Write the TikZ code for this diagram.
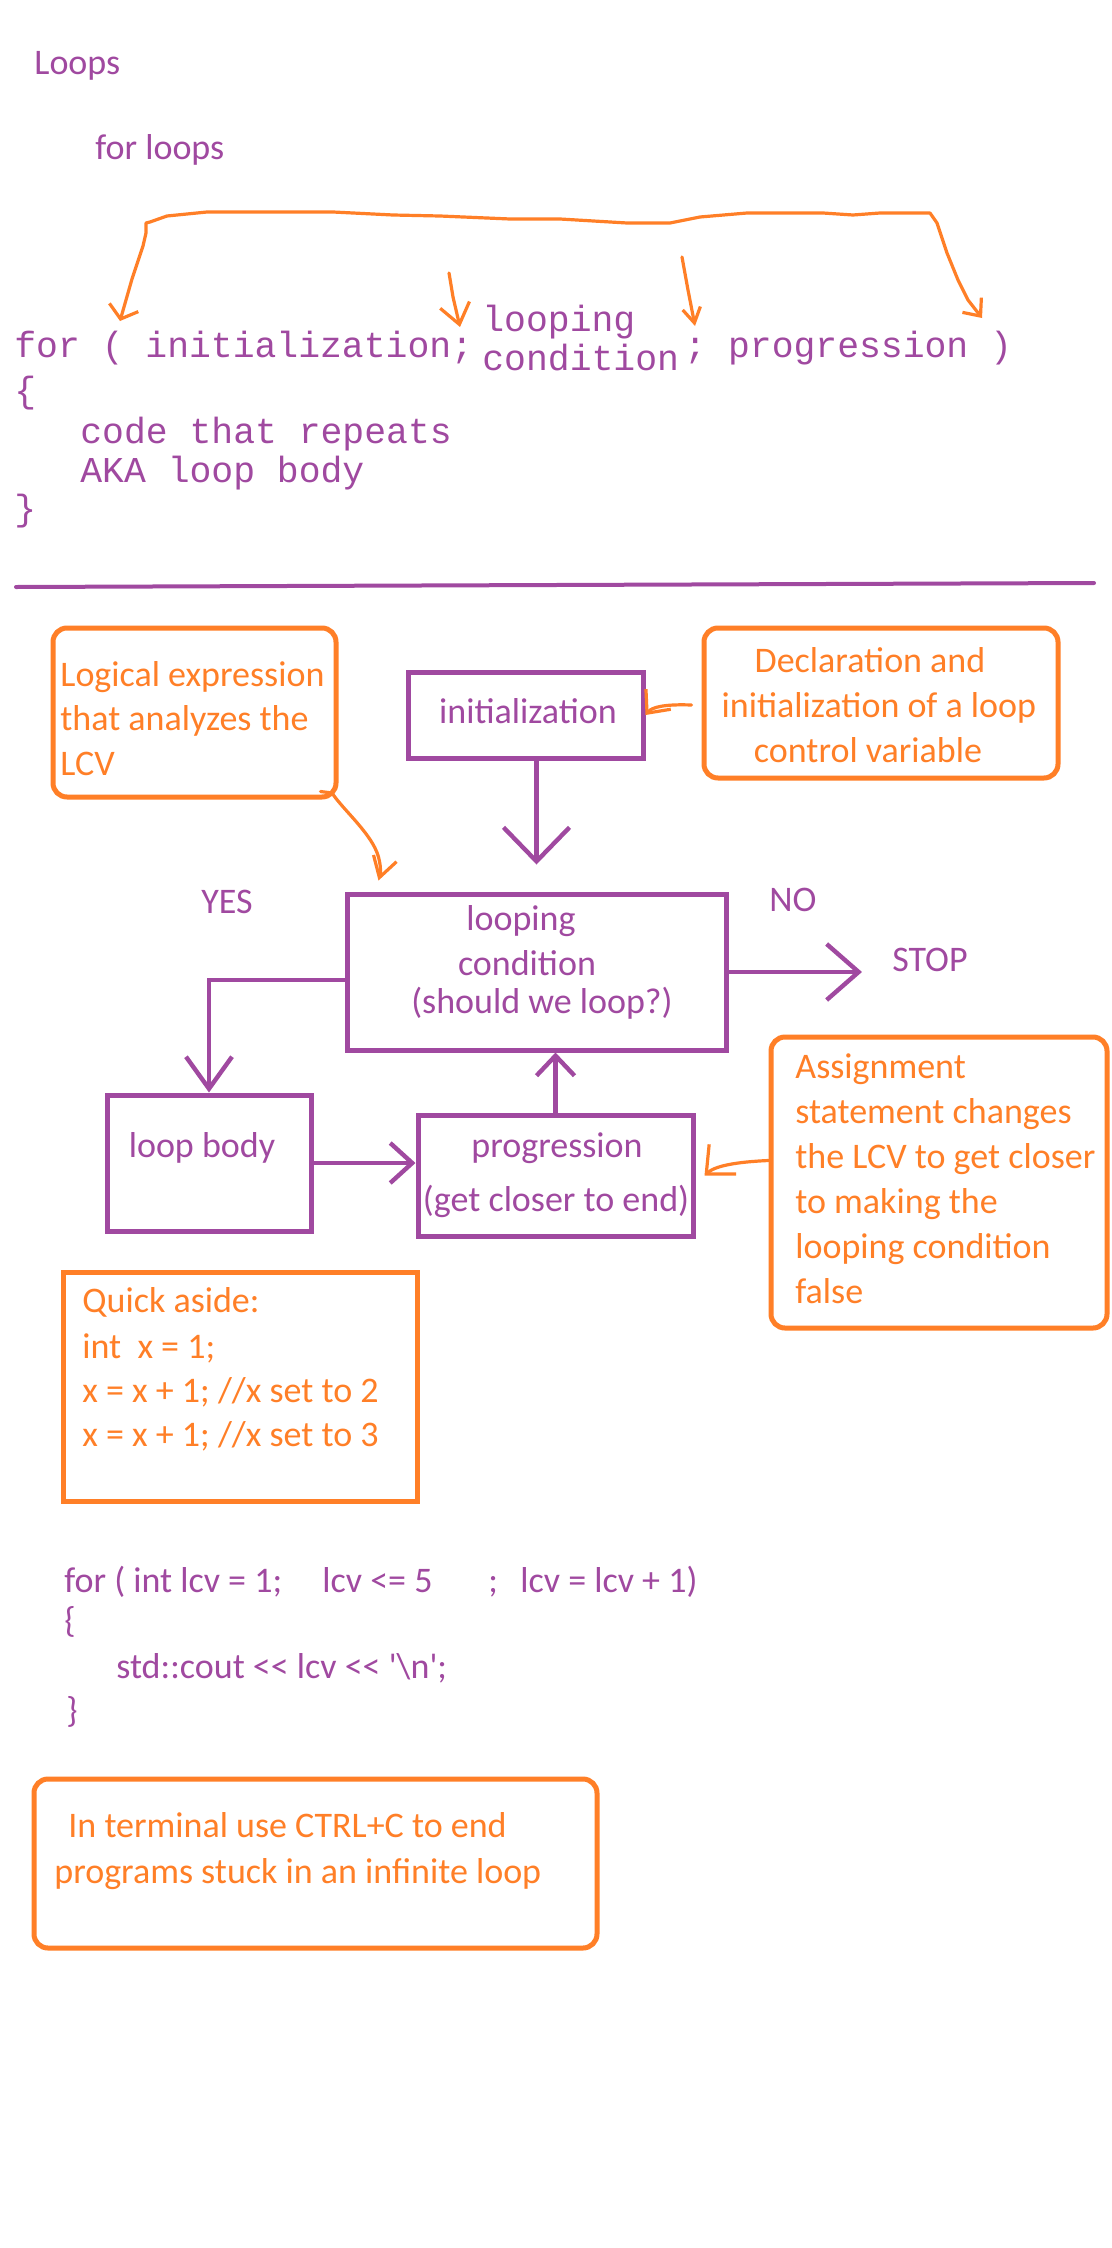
\documentclass[tikz,border=0pt]{standalone}
\usepackage{fontspec}
\newfontfamily\calib{Carlito}
\newfontfamily\monof{Liberation Mono}
\usetikzlibrary{arrows.meta,calc}
\definecolor{purp}{RGB}{160,73,160}
\definecolor{orng}{RGB}{255,127,39}
\begin{document}
\begin{tikzpicture}[x=0.5pt,y=-0.5pt,
  ctxt/.style={font=\calib\fontsize{18}{22}\selectfont, inner sep=0pt},
  ptxt/.style={ctxt,text=purp},
  otxt/.style={ctxt,text=orng},
  mtxt/.style={font=\monof\fontsize{18.2}{22}\selectfont, text=purp, inner sep=0pt},
  pbox/.style={draw=purp, line width=2.5pt, inner sep=0pt},
  obox/.style={draw=orng, line width=2.5pt, inner sep=0pt, rounded corners=7pt},
  sbox/.style={draw=orng, line width=2.5pt, inner sep=0pt},
  parrow/.style={draw=purp, line width=2.2pt},
  oline/.style={draw=orng, line width=1.6pt, line cap=round, line join=round},
]
\fill[white] (0,0) rectangle (1112,2248);

% ---------- top part ----------
\node[ptxt, anchor=base west] (title) at (34,75) {Loops};
\node[ptxt, anchor=base west] (sub) at (95,159) {for loops};

\node[mtxt, anchor=base west] (forinit) at (14,357) {for ( initialization;};
\node[mtxt, anchor=base west] (lcond1) at (482,331) {looping};
\node[mtxt, anchor=base west] (lcond2) at (482,370) {condition};
\node[mtxt, anchor=base west] (fprog) at (684,357) {; progression )};
\node[mtxt, anchor=base west] (obrace) at (14,402) {\{};
\node[mtxt, anchor=base west] (body1) at (80,443) {code that repeats};
\node[mtxt, anchor=base west] (body2) at (80,482) {AKA loop body};
\node[mtxt, anchor=base west] (cbrace) at (14,520) {\}};

% orange bracket
\draw[oline, {Straight Barb[length=6pt,width=15pt]}-{Straight Barb[length=7pt,width=12pt]}]
  (120,321) -- (132,279) -- (143,246) -- (146,233) -- (146,223) -- (150,222) -- (167,216)
  -- (207,212) -- (333,212) -- (373,214) -- (393,215) -- (440,216) -- (510,219) -- (560,219)
  -- (627,223) -- (670,223) -- (700,217) -- (747,213) -- (823,213) -- (853,215) -- (880,213)
  -- (930,213) -- (937,223) -- (947,253) -- (958,280) -- (968,300) -- (982,318);
\draw[oline, -{Straight Barb[length=10pt,width=15pt]}] (449,273) -- (453,297) -- (460,327);
\draw[oline, -{Straight Barb[length=7.5pt,width=9pt]}] (682,257) -- (688,290) -- (695,326);

% separator
\draw[draw=purp, line width=2pt, line cap=round]
  (16,587) -- (151,586.5) -- (420,585.5) -- (690,584.5) -- (959,583.5) -- (1094,583);

% ---------- flow chart ----------
\node[obox, minimum width=141.5pt, minimum height=84.5pt] (leftbox) at (194.5,712.5) {};
\node[otxt, anchor=base west] (lb1) at (60,686) {Logical expression};
\node[otxt, anchor=base west] (lb2) at (60,730) {that analyzes the};
\node[otxt, anchor=base west] (lb3) at (60,775) {LCV};

\node[obox, minimum width=177pt, minimum height=75pt] (rightbox) at (881,703) {};
\node[otxt, anchor=base] (rb1) at (870,672) {Declaration and};
\node[otxt, anchor=base] (rb2) at (879,717) {initialization of a loop};
\node[otxt, anchor=base] (rb3) at (868,762) {control variable};

\node[pbox, minimum width=117.25pt, minimum height=43pt] (init) at (525.75,715) {};
\node[ptxt, anchor=base] (initT) at (528,723) {initialization};

\node[pbox, minimum width=189.5pt, minimum height=78pt] (cond) at (536.5,972) {};
\node[ptxt, anchor=base] (condT1) at (521,930) {looping};
\node[ptxt, anchor=base] (condT2) at (527,975) {condition};
\node[ptxt, anchor=base] (condT3) at (542,1013) {(should we loop?)};

\node[ptxt, anchor=base] (yes) at (227,913) {YES};
\node[ptxt, anchor=base] (no) at (793,911) {NO};
\node[ptxt, anchor=base] (stop) at (930,971) {STOP};

\node[pbox, minimum width=102pt, minimum height=68pt] (loopbody) at (209,1163) {};
\node[ptxt, anchor=base] (loopT) at (202,1157) {loop body};

\node[pbox, minimum width=137.5pt, minimum height=60.5pt] (progression) at (555.5,1175.5) {};
\node[ptxt, anchor=base] (progT1) at (557,1157) {progression};
\node[ptxt, anchor=base] (progT2) at (556,1211) {(get closer to end)};

\node[obox, minimum width=168pt, minimum height=145.5pt] (assign) at (939,1182.5) {};
\node[otxt, anchor=base west] (as1) at (795,1078) {Assignment};
\node[otxt, anchor=base west] (as2) at (795,1123) {statement changes};
\node[otxt, anchor=base west] (as3) at (795,1168) {the LCV to get closer};
\node[otxt, anchor=base west] (as4) at (795,1213) {to making the};
\node[otxt, anchor=base west] (as5) at (795,1258) {looping condition};
\node[otxt, anchor=base west] (as6) at (795,1303) {false};

% purple connectors
\draw[parrow, -{Straight Barb[length=17pt,width=33pt]}] (init.south -| cond.north) -- ([yshift=13.5pt]cond.north);
\draw[parrow, -{Straight Barb[length=16pt,width=28pt]}] (cond.east) -- ($(cond.east -| stop.west)+(-30,0)$);
\draw[parrow, -{Straight Barb[length=16pt,width=23pt]}] ([yshift=-4pt]cond.west) -| (loopbody.north);
\draw[parrow, -{Straight Barb[length=11pt,width=20pt]}] (loopbody.east) -- (loopbody.east -| progression.west);
\draw[parrow, -{Straight Barb[length=10pt,width=19pt]}] (progression.north) -- (progression.north |- cond.south);

% orange connectors
\draw[oline, -{Straight Barb[length=10pt,width=12pt]}] ([xshift=-9pt,yshift=4pt]leftbox.south east) -- (332,793)
  .. controls (342,808) and (365,828) .. (375,848) .. controls (381,860) and (381,872) .. ([xshift=17pt,yshift=5.5pt]cond.north west);
\draw[oline, -{Straight Barb[length=9pt,width=16pt]}] ([xshift=-5pt,yshift=-1pt]rightbox.west) .. controls (665,704) and (652,707) .. (init.east);
\draw[oline, -{Straight Barb[length=11pt,width=20pt]}] ([yshift=11pt]assign.west) .. controls (735,1162) and (715,1166) .. ([xshift=4.5pt]progression.east);

% ---------- quick aside ----------
\node[sbox, minimum width=177pt, minimum height=114.5pt] (aside) at (240,1386.5) {};
\node[otxt, anchor=base west] (qa1) at (82,1312) {Quick aside:};
\node[otxt, anchor=base west] (qa2) at (82,1358) {int\ \ x = 1;};
\node[otxt, anchor=base west] (qa3) at (82,1402) {x = x + 1; //x set to 2};
\node[otxt, anchor=base west] (qa4) at (82,1446) {x = x + 1; //x set to 3};

% ---------- example code ----------
\node[ptxt, anchor=base west] (c1) at (64,1592) {for ( int lcv = 1;};
\node[ptxt, anchor=base west] (c2) at (322,1592) {lcv <= 5};
\node[ptxt, anchor=base west] (c3) at (488,1592) {;};
\node[ptxt, anchor=base west] (c4) at (520,1592) {lcv = lcv + 1)};
\node[ptxt, anchor=base west] (c5) at (64,1632) {\{};
\node[ptxt, anchor=base west] (c6) at (116,1678) {std::cout << lcv << '\textbackslash n';};
\node[ptxt, anchor=base west] (c7) at (66,1722) {\}};

% ---------- terminal note ----------
\node[obox, minimum width=281.5pt, minimum height=84.5pt] (term) at (315.5,1863.5) {};
\node[otxt, anchor=base west] (t1) at (68,1837) {In terminal use CTRL+C to end};
\node[otxt, anchor=base west] (t2) at (54,1883) {programs stuck in an infinite loop};
\end{tikzpicture}
\end{document}
